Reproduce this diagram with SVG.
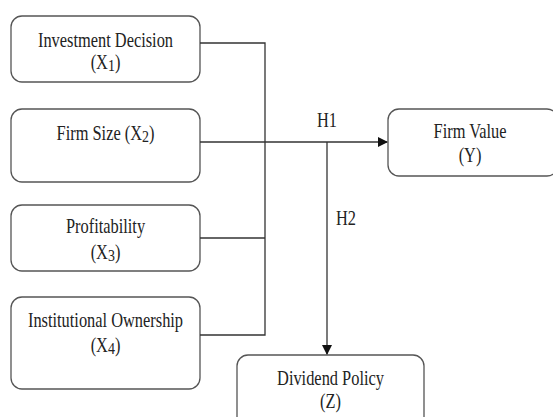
<svg xmlns="http://www.w3.org/2000/svg" width="553" height="417" viewBox="0 0 553 417">
<defs>
<style>
.box{fill:#fff;stroke:#555;stroke-width:1.3}
.t{font-size:20px;fill:#222;text-anchor:middle}
.ln{fill:none;stroke:#333;stroke-width:1.3}
</style>
<marker id="ah" markerWidth="10" markerHeight="10" refX="9" refY="5" orient="auto" markerUnits="userSpaceOnUse">
<path d="M0,0 L10,5 L0,10 z" fill="#111"/>
</marker>
</defs>
<rect width="553" height="417" fill="#fff"/>
<g font-family="Liberation Serif">
<g id="x1">
<rect class="box" x="11" y="16" width="189" height="66" rx="11"/>
<text class="t" transform="translate(105.5,47) scale(0.82,1)">Investment Decision</text>
<text class="t" transform="translate(105.5,69) scale(0.82,1)">(X<tspan font-size="17" dy="2">1</tspan><tspan dy="-2">)</tspan></text>
</g>
<g id="x2">
<rect class="box" x="11" y="109" width="189" height="73" rx="11"/>
<text class="t" transform="translate(105.5,140) scale(0.82,1)">Firm Size (X<tspan font-size="17" dy="2">2</tspan><tspan dy="-2">)</tspan></text>
</g>
<g id="x3">
<rect class="box" x="11" y="205" width="189" height="66" rx="11"/>
<text class="t" transform="translate(105.5,233) scale(0.82,1)">Profitability</text>
<text class="t" transform="translate(105.5,259) scale(0.82,1)">(X<tspan font-size="17" dy="2">3</tspan><tspan dy="-2">)</tspan></text>
</g>
<g id="x4">
<rect class="box" x="11" y="297" width="189" height="92" rx="11"/>
<text class="t" transform="translate(105.5,327) scale(0.82,1)">Institutional Ownership</text>
<text class="t" transform="translate(105.5,352) scale(0.82,1)">(X<tspan font-size="17" dy="2">4</tspan><tspan dy="-2">)</tspan></text>
</g>
<g id="y">
<rect class="box" x="388" y="109" width="170" height="67" rx="11"/>
<text class="t" transform="translate(470,138) scale(0.82,1)">Firm Value</text>
<text class="t" transform="translate(470,162) scale(0.82,1)">(Y)</text>
</g>
<g id="z">
<rect class="box" x="237" y="355" width="187" height="80" rx="11"/>
<text class="t" transform="translate(330.5,385) scale(0.82,1)">Dividend Policy</text>
<text class="t" transform="translate(330.5,408) scale(0.82,1)">(Z)</text>
</g>
<g id="connectors">
<polyline class="ln" points="200,43 265,43 265,335 200,335"/>
<line class="ln" x1="200" y1="238" x2="265" y2="238"/>
<line class="ln" x1="200" y1="142" x2="387" y2="142" marker-end="url(#ah)"/>
<line class="ln" x1="327" y1="142" x2="327" y2="354" marker-end="url(#ah)"/>
<text class="t" transform="translate(327,127) scale(0.82,1)">H1</text>
<text class="t" transform="translate(346,225) scale(0.82,1)">H2</text>
</g>
</g>
</svg>
